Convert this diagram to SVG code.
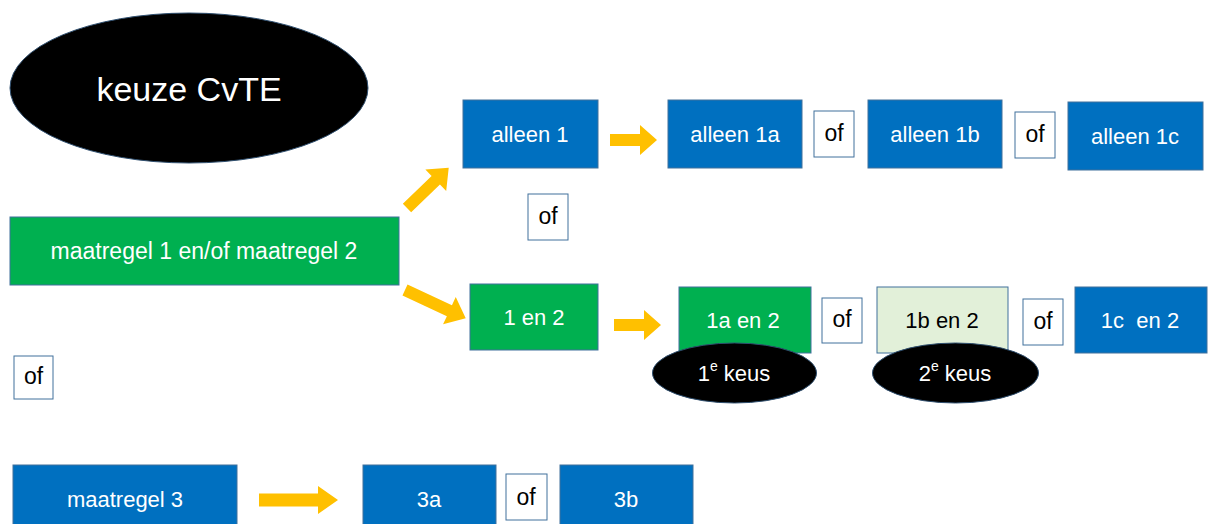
<svg xmlns="http://www.w3.org/2000/svg" width="1208" height="524" viewBox="0 0 1208 524">
<style>
text{font-family:"Liberation Sans",Arial,sans-serif;text-anchor:middle;dominant-baseline:central}
.blue{fill:#0070C0;stroke:#41719C;stroke-width:1}
.green{fill:#00B050;stroke:#41719C;stroke-width:1}
.light{fill:#E2F0D9;stroke:#41719C;stroke-width:1}
.ofbox{fill:#FFFFFF;stroke:#41719C;stroke-width:1}
.oval{fill:#000000;stroke:#2F4F6F;stroke-width:1}
.w{fill:#FFFFFF;font-size:22px}
.k{fill:#000000;font-size:23px}
.arrow{fill:#FFC000}
</style>
<defs>
<path id="arr47" d="M0,-6 H30 V-15 L47,0 L30,15 V6 H0 Z"/>
<path id="arr58" d="M0,-6 H40 V-15 L58,0 L40,15 V6 H0 Z"/>
<path id="arr67" d="M0,-6 H49 V-15 L67,0 L49,15 V6 H0 Z"/>
<path id="arr79" d="M0,-6.5 H59 V-14 L79,0 L59,14 V6.5 H0 Z"/>
</defs>
<rect width="1208" height="524" fill="#FFFFFF"/>

<g id="title">
<ellipse class="oval" cx="189" cy="88" rx="179" ry="75"/>
<text x="189" y="89" style="fill:#FFFFFF;font-size:34px">keuze CvTE</text>
</g>

<g id="maatregel12">
<rect class="green" x="10" y="217" width="389" height="68"/>
<text class="w" x="204" y="251" style="font-size:23px">maatregel 1 en/of maatregel 2</text>
</g>

<g id="alleen1">
<rect class="blue" x="463" y="100" width="135" height="68"/>
<text class="w" x="530" y="134">alleen 1</text>
</g>
<g id="alleen1a">
<rect class="blue" x="668" y="100" width="134" height="68"/>
<text class="w" x="735" y="134">alleen 1a</text>
</g>
<g id="of1">
<rect class="ofbox" x="814" y="111" width="40" height="46"/>
<text class="k" x="834" y="133">of</text>
</g>
<g id="alleen1b">
<rect class="blue" x="868" y="100" width="134" height="68"/>
<text class="w" x="935" y="134">alleen 1b</text>
</g>
<g id="of2">
<rect class="ofbox" x="1015" y="112" width="40" height="46"/>
<text class="k" x="1035" y="134">of</text>
</g>
<g id="alleen1c">
<rect class="blue" x="1068" y="102" width="135" height="68"/>
<text class="w" x="1135" y="136">alleen 1c</text>
</g>

<g id="of3">
<rect class="ofbox" x="528" y="194" width="40" height="46"/>
<text class="k" x="548" y="216">of</text>
</g>

<g id="en12">
<rect class="green" x="470" y="284" width="128" height="66"/>
<text class="w" x="534" y="317">1 en 2</text>
</g>
<g id="en1a2">
<rect class="green" x="679" y="287" width="132" height="66"/>
<text class="w" x="743" y="320">1a en 2</text>
</g>
<g id="of4">
<rect class="ofbox" x="822" y="298" width="40" height="45"/>
<text class="k" x="842" y="319">of</text>
</g>
<g id="en1b2">
<rect class="light" x="877" y="287" width="131" height="66"/>
<text x="942" y="320" style="fill:#000000;font-size:22px">1b en 2</text>
</g>
<g id="of5">
<rect class="ofbox" x="1023" y="299" width="40" height="46"/>
<text class="k" x="1043" y="321">of</text>
</g>
<g id="en1c2">
<rect class="blue" x="1075" y="287" width="132" height="66"/>
<text class="w" x="1140" y="320" xml:space="preserve">1c  en 2</text>
</g>

<g id="keus1">
<ellipse class="oval" cx="734.5" cy="373" rx="82" ry="30"/>
<text class="w" x="734" y="373">1<tspan dy="-7" style="font-size:14px">e</tspan><tspan dy="7"> keus</tspan></text>
</g>
<g id="keus2">
<ellipse class="oval" cx="955.5" cy="373" rx="83" ry="30"/>
<text class="w" x="955" y="373">2<tspan dy="-7" style="font-size:14px">e</tspan><tspan dy="7"> keus</tspan></text>
</g>

<g id="of6">
<rect class="ofbox" x="14" y="356" width="39" height="43"/>
<text class="k" x="33.5" y="376">of</text>
</g>

<g id="maatregel3">
<rect class="blue" x="13" y="465" width="224" height="68"/>
<text class="w" x="125" y="499">maatregel 3</text>
</g>
<g id="m3a">
<rect class="blue" x="363" y="465" width="133" height="68"/>
<text class="w" x="429" y="499">3a</text>
</g>
<g id="of7">
<rect class="ofbox" x="506" y="474" width="41" height="46"/>
<text class="k" x="526" y="497">of</text>
</g>
<g id="m3b">
<rect class="blue" x="560" y="465" width="133" height="68"/>
<text class="w" x="626" y="499">3b</text>
</g>

<g id="connectors" class="arrow">
<use href="#arr58" transform="translate(407,208) rotate(-44)"/>
<use href="#arr67" transform="translate(405,290) rotate(25)"/>
<use href="#arr47" transform="translate(610,140)"/>
<use href="#arr47" transform="translate(614,325)"/>
<use href="#arr79" transform="translate(259,500)"/>
</g>
</svg>
